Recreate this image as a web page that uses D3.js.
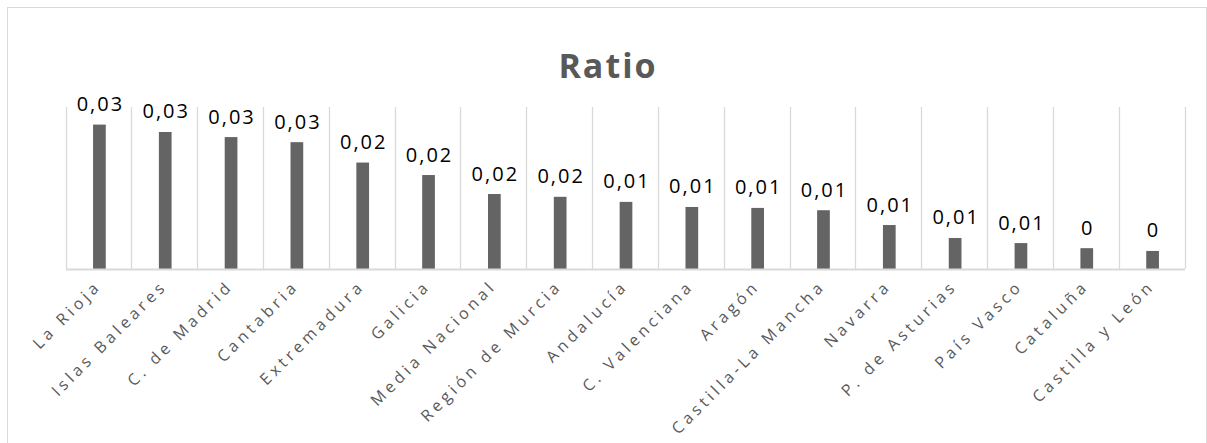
<!DOCTYPE html>
<html lang="es">
<head>
<meta charset="utf-8">
<script src="https://cdn.jsdelivr.net/npm/d3@7"></script>
<style>
  html, body { margin: 0; padding: 0; background: #ffffff; }
  svg { display: block; }
</style>
</head>
<body>
<svg id="chart" width="1207" height="443"></svg>
<script>
// Regions (plus the national average) ordered by ratio
const categories = [
  "La Rioja", "Islas Baleares", "C. de Madrid", "Cantabria", "Extremadura",
  "Galicia", "Media Nacional", "Región de Murcia", "Andalucía", "C. Valenciana",
  "Aragón", "Castilla-La Mancha", "Navarra", "P. de Asturias", "País Vasco",
  "Cataluña", "Castilla y León"
];
const ratioValues = [
  0.0312, 0.0296, 0.0285, 0.0274, 0.0230,
  0.0203, 0.0162, 0.0156, 0.0145, 0.0134,
  0.0132, 0.0127, 0.0095, 0.0067, 0.0056,
  0.0045, 0.0039
];
const chartTitle = "Ratio";
const yDomain = [0, 0.035];

const svg = d3.select("#chart");
const plot = { left: 65.5, right: 1184.5, top: 107, bottom: 269 };

// outer chart frame
svg.append("rect")
  .attr("x", 7.5).attr("y", 7.5)
  .attr("width", 1199).attr("height", 460)
  .attr("fill", "#ffffff")
  .attr("stroke", "#d9d9d9").attr("stroke-width", 1);

// title
svg.append("text")
  .attr("x", 608).attr("y", 77.5)
  .attr("text-anchor", "middle")
  .attr("font-family", "'Open Sans', sans-serif")
  .attr("font-weight", 700)
  .attr("font-size", 34)
  .attr("letter-spacing", 2)
  .attr("fill", "#595959")
  .text(chartTitle);

const x = d3.scaleBand()
  .domain(categories)
  .range([plot.left, plot.right])
  .paddingInner(0).paddingOuter(0);

const y = d3.scaleLinear()
  .domain(yDomain)
  .range([plot.bottom, plot.top]);

// vertical gridlines at category boundaries
const bounds = categories.map(c => x(c)).concat([plot.right]);
svg.append("g")
  .selectAll("line")
  .data(bounds)
  .join("line")
  .attr("x1", d => Math.round(d) + 0.5)
  .attr("x2", d => Math.round(d) + 0.5)
  .attr("y1", plot.top)
  .attr("y2", plot.bottom)
  .attr("stroke", "#d9d9d9")
  .attr("stroke-width", 1.3);

// bars
const barW = x.bandwidth() * 0.193;
svg.append("g")
  .selectAll("rect")
  .data(ratioValues)
  .join("rect")
  .attr("x", (d, i) => x(categories[i]) + x.bandwidth() / 2 - barW / 2 + 1)
  .attr("y", d => y(d))
  .attr("width", barW)
  .attr("height", d => y(0) - y(d))
  .attr("fill", "#646464");

// category axis
const xAxis = d3.axisBottom(x).tickSize(0).tickFormat("");
const axisG = svg.append("g")
  .attr("transform", `translate(0,${plot.bottom})`)
  .call(xAxis);
axisG.select(".domain")
  .attr("stroke", "#d9d9d9")
  .attr("stroke-width", 2);

// rotated category labels
svg.append("g")
  .selectAll("text")
  .data(categories)
  .join("text")
  .attr("transform", d => `translate(${x(d) + x.bandwidth() / 2 + 4},${plot.bottom + 18}) rotate(-45)`)
  .attr("text-anchor", "end")
  .attr("font-family", "'Open Sans', sans-serif")
  .attr("font-size", 16)
  .attr("letter-spacing", 3.9)
  .attr("fill", "#595959")
  .text(d => d);

// value labels
const fmt = v => {
  const r = Math.round(v * 100) / 100;
  return r === 0 ? "0" : r.toFixed(2).replace(".", ",");
};
svg.append("g")
  .selectAll("text")
  .data(ratioValues)
  .join("text")
  .attr("x", (d, i) => x(categories[i]) + x.bandwidth() / 2 + 2)
  .attr("y", d => y(d) - 13.5)
  .attr("text-anchor", "middle")
  .attr("font-family", "'Open Sans', sans-serif")
  .attr("font-size", 20)
  .attr("letter-spacing", 2)
  .attr("fill", "#000000")
  .text(d => fmt(d));
</script>
</body>
</html>
